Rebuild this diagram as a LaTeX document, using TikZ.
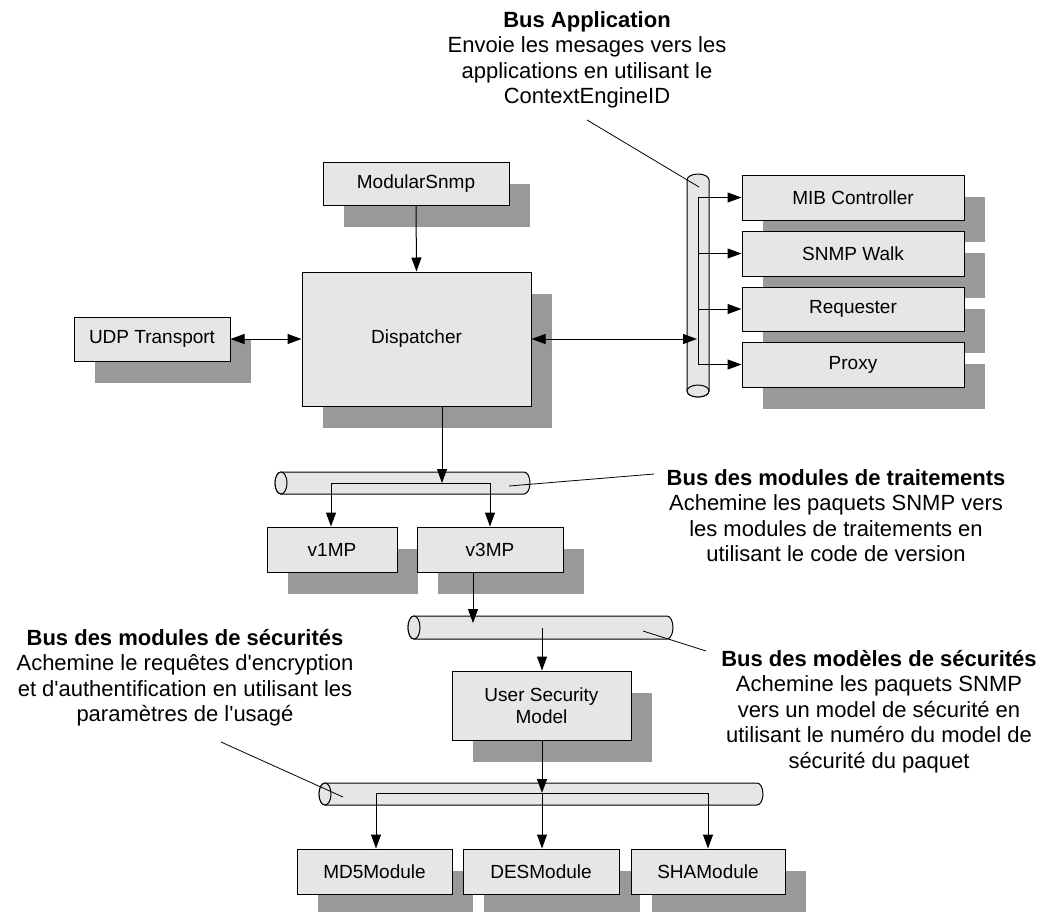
\documentclass[tikz,border=0pt]{standalone}
\usepackage{fontspec}
\setmainfont{Liberation Sans}
\usetikzlibrary{arrows.meta,shadows}
\definecolor{boxgray}{RGB}{230,230,230}
\definecolor{shadegray}{RGB}{153,153,153}
\newcommand{\apos}{\textquotesingle}
\begin{document}
\begin{tikzpicture}[x=1pt,y=-1pt,
  box/.style={draw, fill=boxgray, line width=1pt, inner sep=0pt, align=center,
    font=\fontsize{19}{22}\selectfont,
    drop shadow={shadow xshift=21pt, shadow yshift=-22pt, fill=shadegray, opacity=1}},
  busfill/.style={draw, fill=boxgray, line width=1pt},
  wire/.style={line width=1pt},
  arr/.style={wire, -{Triangle[length=14pt,width=10pt]}},
  darr/.style={wire, {Triangle[length=14pt,width=10pt]}-{Triangle[length=14pt,width=10pt]}},
  lead/.style={line width=0.8pt},
  note/.style={align=center, anchor=north, inner sep=0pt, font=\fontsize{22}{25.5}\selectfont}
]
\useasboundingbox (0,0) rectangle (1041,911);

% ---- buses (cylinders) ----
% application bus (vertical, open end at the bottom)
\draw[busfill] (687,180) -- (687,391) arc[start angle=180,end angle=0,x radius=11,y radius=6]
  -- (709,180) arc[start angle=0,end angle=-180,x radius=11,y radius=6] -- cycle;
\draw[busfill] (698,391) ellipse[x radius=11,y radius=6];
% processing modules bus
\draw[busfill] (281,472) -- (524,472) arc[start angle=-90,end angle=90,x radius=6,y radius=11]
  -- (281,494) arc[start angle=90,end angle=270,x radius=6,y radius=11] -- cycle;
\draw[busfill] (281,483) ellipse[x radius=6,y radius=11];
% security models bus
\draw[busfill] (414,616) -- (667,616) arc[start angle=-90,end angle=90,x radius=6,y radius=11.5]
  -- (414,639) arc[start angle=90,end angle=270,x radius=6,y radius=11.5] -- cycle;
\draw[busfill] (414,627.5) ellipse[x radius=6,y radius=11.5];
% security modules bus
\draw[busfill] (325,783) -- (757,783) arc[start angle=-90,end angle=90,x radius=6,y radius=11]
  -- (325,805) arc[start angle=90,end angle=270,x radius=6,y radius=11] -- cycle;
\draw[busfill] (325,794) ellipse[x radius=6,y radius=11];

% ---- boxes ----
\node[box, minimum width=186pt, minimum height=43pt] (mod) at (416,183.5) {ModularSnmp};
\node[box, minimum width=156pt, minimum height=44pt] (udp) at (152,339) {UDP Transport};
\node[box, minimum width=229pt, minimum height=134pt] (disp) at (416.5,339) {Dispatcher};
\node[box, minimum width=222pt, minimum height=45pt] (mib) at (853,197.5) {MIB Controller};
\node[box, minimum width=222pt, minimum height=45pt] (walk) at (853,253.5) {SNMP Walk};
\node[box, minimum width=222pt, minimum height=44pt] (req) at (853,309) {Requester};
\node[box, minimum width=222pt, minimum height=45pt] (proxy) at (853,364.5) {Proxy};
\node[box, minimum width=130pt, minimum height=45pt] (v1) at (332,549.5) {v1MP};
\node[box, minimum width=146pt, minimum height=45pt] (v3) at (490,549.5) {v3MP};
\node[box, minimum width=179pt, minimum height=69pt] (usm) at (541.5,705.5) {User Security\\Model};
\node[box, minimum width=155pt, minimum height=45pt] (md5) at (374.5,871.5) {MD5Module};
\node[box, minimum width=156pt, minimum height=45pt] (des) at (541,871.5) {DESModule};
\node[box, minimum width=154pt, minimum height=45pt] (sha) at (708,871.5) {SHAModule};

% ---- junction points on the buses ----
\coordinate (atop) at (698,198);
\coordinate (abot) at (698,364);
\coordinate (ain) at (697,339);
\coordinate (pin) at (442,483);
\coordinate (pl) at (331,483);
\coordinate (pr) at (490,483);
\coordinate (sin) at (473,623);
\coordinate (sout) at (542,628);
\coordinate (kin) at (542,793);
\coordinate (kl) at (376,793);
\coordinate (kr) at (708,793);

% ---- connectors ----
\draw[arr] (mod.south) -- (disp.north);
\draw[darr] (udp.east) -- (disp.west);
\draw[darr] (disp.east) -- (ain);
\draw[wire] (atop) -- (abot);
\foreach \n in {mib,walk,req,proxy}
  \draw[arr] (atop |- \n.west) -- (\n.west);
\draw[arr] (disp.south -| pin) -- (pin);
\draw[wire] (pl) -- (pr);
\draw[arr] (pl) -- (v1.north -| pl);
\draw[arr] (pr) -- (v3.north -| pr);
\draw[arr] (v3.south -| sin) -- (sin);
\draw[arr] (sout) -- (usm.north -| sout);
\draw[arr] (usm.south -| kin) -- (kin);
\draw[wire] (kl) -- (kr);
\draw[arr] (kl) -- (md5.north -| kl);
\draw[arr] (kin) -- (des.north -| kin);
\draw[arr] (kr) -- (sha.north -| kr);

% ---- annotations ----
\node[note] (tapp) at (587,11.25) {\textbf{Bus Application}\\Envoie les mesages vers les\\applications en utilisant le\\ContextEngineID};
\node[note] (tproc) at (836,469.25) {\textbf{Bus des modules de traitements}\\Achemine les paquets SNMP vers\\les modules de traitements en\\utilisant le code de version};
\node[note] (tsecmod) at (185,629) {\textbf{Bus des modules de sécurités}\\Achemine le requêtes d\apos encryption\\et d\apos authentification en utilisant les\\paramètres de l\apos usagé};
\node[note] (tsecmodel) at (879,650) {\textbf{Bus des modèles de sécurités}\\Achemine les paquets SNMP\\vers un model de sécurité en\\utilisant le numéro du model de\\sécurité du paquet};

% ---- leader lines ----
\coordinate (la1) at (587,120);  \coordinate (la2) at (699,187);
\coordinate (lb1) at (654,474);  \coordinate (lb2) at (509,486);
\coordinate (lc1) at (706,651);  \coordinate (lc2) at (643,631);
\coordinate (ld1) at (221,742);  \coordinate (ld2) at (343,797);
\draw[lead] (la1) -- (la2);
\draw[lead] (lb1) -- (lb2);
\draw[lead] (lc1) -- (lc2);
\draw[lead] (ld1) -- (ld2);
\end{tikzpicture}
\end{document}
